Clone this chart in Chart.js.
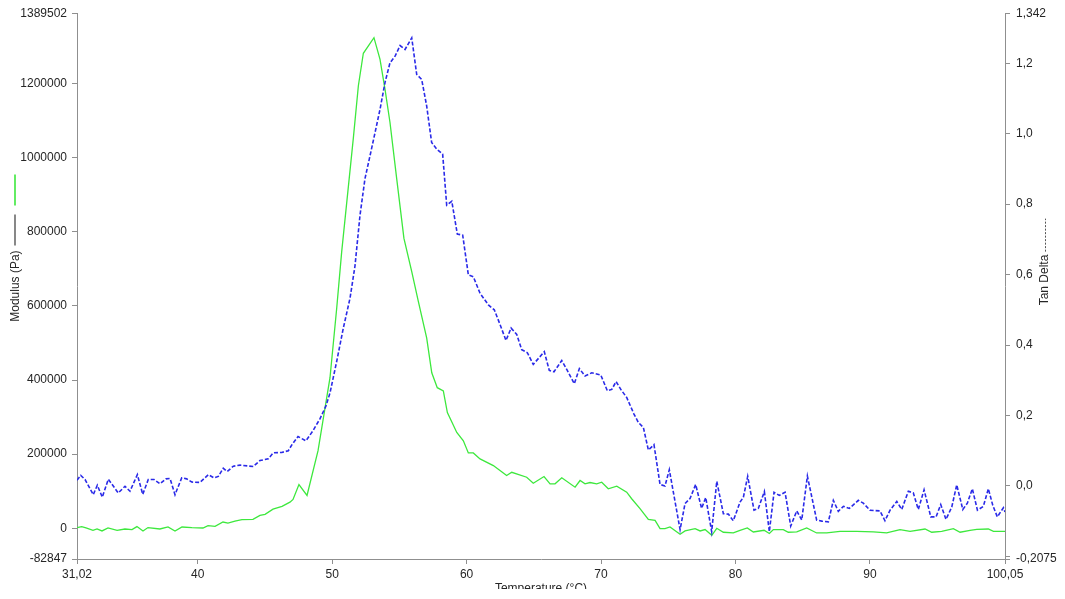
<!DOCTYPE html>
<html>
<head>
<meta charset="utf-8">
<script src="https://cdn.jsdelivr.net/npm/chart.js@4/dist/chart.umd.min.js"></script>
<style>
  html, body { margin: 0; padding: 0; background: #ffffff; overflow: hidden; }
  #clip { width: 1065px; height: 589px; overflow: hidden; position: relative; background: #fff; }
  #holder { width: 1065px; height: 596px; position: relative; }
</style>
</head>
<body>
<div id="clip"><div id="holder"><canvas id="c"></canvas></div></div>
<script>
// ---------- data ----------
const tempMod = [31.02, 31.37, 31.69, 32.21, 32.51, 32.88, 33.33, 34.00, 34.59, 35.11, 35.48, 35.93, 36.30, 37.19, 37.79, 38.31, 38.83, 39.57, 40.39, 40.77, 41.29, 41.88, 42.25, 42.77, 43.29, 44.11, 44.63, 45.01, 45.60, 46.27, 46.86, 47.09, 47.53, 48.13, 48.95, 49.84, 50.34, 50.71, 51.57, 51.95, 52.32, 53.11, 53.56, 53.93, 54.30, 54.80, 55.34, 55.92, 56.41, 57.03, 57.41, 57.82, 58.27, 58.57, 59.27, 59.76, 60.13, 60.50, 61.00, 61.99, 62.98, 63.36, 64.47, 64.96, 65.76, 66.21, 66.58, 67.08, 68.07, 68.44, 68.81, 69.18, 69.68, 70.05, 70.54, 71.17, 71.91, 72.28, 72.90, 73.52, 74.02, 74.39, 74.76, 75.13, 75.88, 76.25, 77.00, 77.37, 77.74, 78.24, 78.61, 79.10, 79.84, 80.34, 80.88, 81.33, 82.13, 82.52, 82.82, 83.56, 83.93, 84.56, 85.30, 86.04, 86.79, 87.78, 89.02, 90.26, 91.25, 92.24, 92.99, 94.10, 94.60, 95.34, 96.21, 96.71, 97.45, 97.95, 98.81, 99.19, 100.05];
const modulus = [2000, 4600, 800, -5400, -1900, -7200, 800, -5400, -1900, -3500, 4600, -7200, 1900, -1900, 3500, -7200, 3500, 1900, 800, 7200, 5400, 16900, 14200, 19600, 23400, 24200, 34900, 37600, 51800, 59100, 70600, 77900, 118100, 88600, 209400, 406200, 594100, 746300, 1050500, 1193800, 1281400, 1323500, 1265200, 1184700, 1095300, 943100, 782000, 692600, 612100, 513600, 419600, 379300, 370500, 312200, 258500, 236200, 203200, 203200, 187100, 169100, 142300, 151100, 137700, 121600, 139600, 120000, 120000, 136100, 110900, 128900, 120000, 123500, 120000, 124300, 106600, 113600, 97500, 79700, 52900, 24200, 21500, -800, -800, 3500, -16100, -7200, -800, -7200, -3500, -18800, 0, -10700, -12600, -5400, 800, -9900, -5400, -14200, -3500, -3500, -10700, -9900, 800, -12600, -12600, -8100, -8100, -9900, -12600, -3500, -8100, -1900, -10700, -8100, -800, -10700, -5400, -2700, -1900, -8100, -8100];

const tempTan = [31.02, 31.30, 31.62, 32.23, 32.53, 32.90, 33.35, 34.09, 34.59, 34.96, 35.51, 35.91, 36.32, 36.75, 37.19, 37.64, 37.94, 38.31, 38.81, 39.18, 39.55, 40.17, 40.79, 41.21, 41.53, 41.90, 42.20, 42.65, 43.15, 44.13, 44.63, 45.25, 45.62, 46.25, 46.74, 47.01, 47.46, 48.05, 48.58, 49.10, 49.54, 49.84, 50.34, 50.83, 51.33, 51.70, 52.07, 52.44, 52.82, 53.19, 53.56, 53.93, 54.30, 54.68, 55.05, 55.42, 55.92, 56.29, 56.66, 57.03, 57.40, 57.78, 58.22, 58.52, 58.90, 59.31, 59.71, 60.13, 60.50, 61.00, 61.62, 62.06, 62.49, 62.93, 63.31, 63.73, 64.10, 64.52, 64.96, 65.78, 66.15, 66.50, 67.08, 67.45, 68.01, 68.39, 68.81, 69.31, 69.98, 70.47, 70.80, 71.12, 71.47, 71.91, 72.45, 72.78, 73.15, 73.52, 73.94, 74.39, 74.76, 75.08, 75.88, 76.25, 76.62, 77.04, 77.48, 77.79, 78.23, 78.61, 79.10, 79.47, 79.84, 80.34, 80.59, 80.91, 81.38, 81.70, 82.15, 82.52, 82.87, 83.26, 83.69, 84.11, 84.56, 84.93, 85.35, 86.04, 86.42, 86.91, 87.28, 87.65, 88.03, 88.47, 89.14, 89.51, 90.01, 90.75, 91.12, 91.50, 92.00, 92.37, 92.86, 93.23, 93.60, 94.03, 94.53, 94.92, 95.27, 95.66, 96.09, 96.46, 96.91, 97.25, 97.62, 98.00, 98.44, 98.81, 99.14, 99.48, 99.93, 100.05];
const tanDelta = [0.016, 0.030, 0.018, -0.025, 0.002, -0.032, 0.019, -0.020, -0.001, -0.015, 0.032, -0.024, 0.018, 0.018, 0.006, 0.020, 0.021, -0.025, 0.023, 0.020, 0.011, 0.010, 0.032, 0.023, 0.027, 0.050, 0.041, 0.056, 0.059, 0.055, 0.072, 0.077, 0.094, 0.095, 0.100, 0.117, 0.140, 0.128, 0.157, 0.191, 0.227, 0.264, 0.354, 0.448, 0.533, 0.625, 0.768, 0.872, 0.938, 1.003, 1.069, 1.145, 1.201, 1.220, 1.250, 1.239, 1.272, 1.168, 1.154, 1.079, 0.975, 0.956, 0.942, 0.797, 0.808, 0.715, 0.712, 0.599, 0.594, 0.547, 0.514, 0.500, 0.458, 0.413, 0.448, 0.430, 0.387, 0.378, 0.345, 0.381, 0.328, 0.324, 0.356, 0.331, 0.290, 0.333, 0.312, 0.321, 0.315, 0.270, 0.274, 0.296, 0.274, 0.251, 0.204, 0.180, 0.166, 0.102, 0.117, 0.004, 0.000, 0.046, -0.124, -0.050, -0.036, 0.004, -0.064, -0.033, -0.130, 0.013, -0.079, -0.080, -0.099, -0.046, -0.032, 0.027, -0.069, -0.064, -0.016, -0.130, -0.018, -0.027, -0.018, -0.114, -0.071, -0.097, 0.028, -0.097, -0.100, -0.102, -0.041, -0.072, -0.058, -0.064, -0.041, -0.049, -0.069, -0.071, -0.099, -0.069, -0.044, -0.067, -0.015, -0.020, -0.067, -0.011, -0.088, -0.088, -0.053, -0.095, -0.060, 0.003, -0.067, -0.049, -0.008, -0.069, -0.058, -0.008, -0.055, -0.088, -0.062, -0.074];

const xTicks = [31.02, 40, 50, 60, 70, 80, 90, 100.05];
const yLeftTicks = [-82847, 0, 200000, 400000, 600000, 800000, 1000000, 1200000, 1389502];
const yRightTicks = [-0.2075, -0.2, 0, 0.2, 0.4, 0.6, 0.8, 1.0, 1.2, 1.342];

// ---------- styling ----------
const GREEN = '#3de83d';
const BLUE = '#2a2ae8';
const AXIS = '#8f8f8f';
const TEXT = '#262626';
const FONT = '"Liberation Sans", Arial, sans-serif';

Chart.defaults.font.family = FONT;
Chart.defaults.font.size = 12;
Chart.defaults.color = TEXT;

const comma = v => String(v).replace('.', ',');

const axisDecor = {
  id: 'axisDecor',
  afterDraw(chart) {
    const ctx = chart.ctx;
    const yS = chart.scales.y;
    ctx.save();
    ctx.font = '12px ' + FONT;
    // left title legend marks (Chart.js draws the title text itself)
    const lw = ctx.measureText('Modulus (Pa)').width;
    const lcx = 15;
    const lcy = (yS.top + yS.bottom) / 2;
    const topEnd = lcy - lw / 2;
    ctx.lineWidth = 1.6;
    ctx.strokeStyle = '#6a6a6a';
    ctx.beginPath(); ctx.moveTo(lcx, topEnd - 5); ctx.lineTo(lcx, topEnd - 36); ctx.stroke();
    ctx.strokeStyle = GREEN;
    ctx.beginPath(); ctx.moveTo(lcx, topEnd - 45); ctx.lineTo(lcx, topEnd - 76); ctx.stroke();

    // right title, reading bottom-to-top
    const rText = 'Tan Delta';
    const rw = ctx.measureText(rText).width;
    const rcx = 1045, rcy = 280;
    ctx.translate(rcx, rcy);
    ctx.rotate(-Math.PI / 2);
    ctx.fillStyle = TEXT;
    ctx.textAlign = 'center';
    ctx.textBaseline = 'middle';
    ctx.fillText(rText, 0, 0);
    ctx.setLineDash([2, 1.5]);
    ctx.lineWidth = 1;
    ctx.strokeStyle = '#555';
    ctx.beginPath(); ctx.moveTo(rw / 2 + 3, 0.5); ctx.lineTo(rw / 2 + 36, 0.5); ctx.stroke();
    ctx.restore();
  }
};

new Chart(document.getElementById('c'), {
  type: 'line',
  data: {
    datasets: [
      {
        label: 'Tan Delta',
        data: tempTan.map((t, i) => ({ x: t, y: tanDelta[i] })),
        yAxisID: 'y1',
        borderColor: BLUE,
        borderWidth: 1.6,
        borderDash: [4, 2],
        pointRadius: 0,
        tension: 0,
        fill: false
      },
      {
        label: 'Modulus (Pa)',
        data: tempMod.map((t, i) => ({ x: t, y: modulus[i] })),
        yAxisID: 'y',
        borderColor: GREEN,
        borderWidth: 1.3,
        pointRadius: 0,
        tension: 0,
        fill: false
      }
    ]
  },
  options: {
    responsive: true,
    maintainAspectRatio: false,
    animation: false,
    layout: { padding: { top: 11, left: 0, right: 0, bottom: 0 } },
    plugins: { legend: { display: false }, tooltip: { enabled: false } },
    scales: {
      x: {
        type: 'linear',
        position: 'bottom',
        min: 31.02,
        max: 100.05,
        afterBuildTicks: s => { s.ticks = xTicks.map(v => ({ value: v })); },
        afterFit: s => { s.height = 37; },
        ticks: { autoSkip: false, maxRotation: 0, padding: 3, color: TEXT, callback: v => comma(v) },
        grid: { drawOnChartArea: false, drawTicks: true, tickLength: 5, color: AXIS },
        border: { display: true, color: AXIS },
        title: { display: true, text: 'Temperature (°C)', color: TEXT, padding: 0 }
      },
      y: {
        type: 'linear',
        position: 'left',
        min: -82847,
        max: 1389502,
        afterBuildTicks: s => { s.ticks = yLeftTicks.map(v => ({ value: v })); },
        afterFit: s => { s.width = 77; },
        ticks: { autoSkip: false, padding: 5, color: TEXT, callback: v => String(v) },
        grid: { drawOnChartArea: false, drawTicks: true, tickLength: 5, color: AXIS },
        border: { display: true, color: AXIS },
        title: { display: true, text: 'Modulus (Pa)', color: TEXT, padding: { top: 8, bottom: 0 } }
      },
      y1: {
        type: 'linear',
        position: 'right',
        min: -0.2075,
        max: 1.342,
        afterBuildTicks: s => { s.ticks = yRightTicks.map(v => ({ value: v })); },
        afterFit: s => { s.width = 60; },
        ticks: {
          autoSkip: false, padding: 6, color: TEXT,
          callback: v => {
            if (v === -0.2) return '';
            if (v === -0.2075 || v === 1.342) return comma(v);
            return v.toFixed(1).replace('.', ',');
          }
        },
        grid: { drawOnChartArea: false, drawTicks: true, tickLength: 5, color: AXIS },
        border: { display: true, color: AXIS }
      }
    }
  },
  plugins: [axisDecor]
});
</script>
</body>
</html>
